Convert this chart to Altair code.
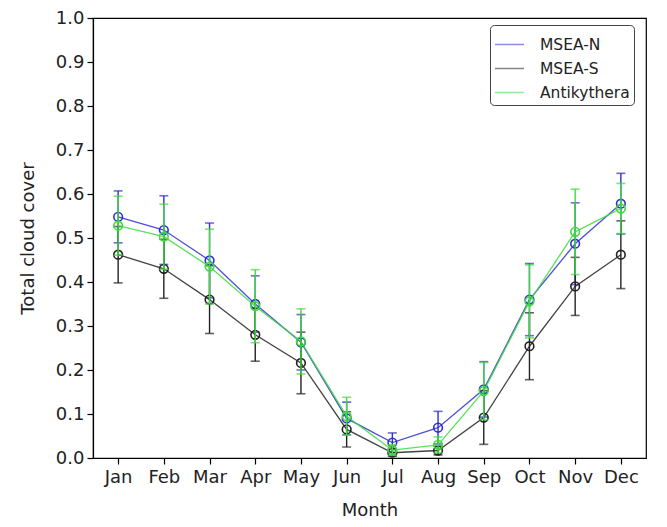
import altair as alt
import pandas as pd

months = ["Jan", "Feb", "Mar", "Apr", "May", "Jun", "Jul", "Aug", "Sep", "Oct", "Nov", "Dec"]
series_names = ["MSEA-N", "MSEA-S", "Antikythera"]
series_colors = ["#2f2fd2", "#222222", "#3ddc3d"]

n_mean = [0.548, 0.518, 0.449, 0.350, 0.263, 0.090, 0.035, 0.069, 0.156, 0.360, 0.487, 0.578]
n_err = [0.059, 0.078, 0.085, 0.064, 0.063, 0.037, 0.022, 0.037, 0.063, 0.082, 0.093, 0.069]
s_mean = [0.462, 0.430, 0.360, 0.280, 0.216, 0.065, 0.012, 0.017, 0.092, 0.254, 0.390, 0.462]
s_err = [0.064, 0.067, 0.077, 0.060, 0.070, 0.040, 0.008, 0.010, 0.061, 0.076, 0.066, 0.077]
a_mean = [0.528, 0.503, 0.435, 0.345, 0.265, 0.095, 0.018, 0.030, 0.152, 0.356, 0.514, 0.567]
a_err = [0.067, 0.074, 0.085, 0.083, 0.074, 0.043, 0.012, 0.018, 0.065, 0.083, 0.097, 0.057]

means = {"MSEA-N": n_mean, "MSEA-S": s_mean, "Antikythera": a_mean}
errs = {"MSEA-N": n_err, "MSEA-S": s_err, "Antikythera": a_err}

rows = []
for s in series_names:
    for i, m in enumerate(months):
        mv = means[s][i]
        ev = errs[s][i]
        rows.append({"series": s, "month": i, "mean": mv, "lo": mv - ev, "hi": mv + ev})
df = pd.DataFrame(rows)

label_expr = "[" + ",".join("'" + m + "'" for m in months) + "][datum.value]"

x_enc = alt.X(
    "month:Q",
    scale=alt.Scale(domain=[-0.55, 11.55], nice=False, zero=False),
    axis=alt.Axis(values=list(range(12)), labelExpr=label_expr, title="Month",
                  grid=False, tickSize=6, labelPadding=4, titlePadding=15),
)
y_axis = alt.Axis(values=[round(v * 0.1, 1) for v in range(11)], format=".1f",
                  title="Total cloud cover", grid=False, tickSize=6,
                  labelPadding=3, titlePadding=18)
y_scale = alt.Scale(domain=[0, 1], nice=False)

color_enc = alt.Color(
    "series:N",
    scale=alt.Scale(domain=series_names, range=series_colors),
    legend=alt.Legend(title=None, orient="none", legendX=397, legendY=7),
)

layers = []
for s in series_names:
    base = alt.Chart(df).transform_filter(alt.datum.series == s)
    rule = base.mark_rule(strokeWidth=1.4).encode(
        x=x_enc, y=alt.Y("lo:Q", scale=y_scale, axis=y_axis), y2="hi:Q", color=color_enc)
    cap_lo = base.mark_tick(orient="horizontal", size=9, thickness=1.6).encode(
        x=x_enc, y=alt.Y("lo:Q", scale=y_scale, axis=y_axis), color=color_enc)
    cap_hi = base.mark_tick(orient="horizontal", size=9, thickness=1.6).encode(
        x=x_enc, y=alt.Y("hi:Q", scale=y_scale, axis=y_axis), color=color_enc)
    line = base.mark_line(strokeWidth=1.3, opacity=0.85).encode(
        x=x_enc, y=alt.Y("mean:Q", scale=y_scale, axis=y_axis), color=color_enc)
    pts = base.mark_point(shape="circle", filled=False, size=75, strokeWidth=1.6, opacity=1).encode(
        x=x_enc, y=alt.Y("mean:Q", scale=y_scale, axis=y_axis), color=color_enc)
    layers += [rule, cap_lo, cap_hi, line, pts]

chart = alt.layer(*layers).properties(
    width=553, height=440,
    autosize=alt.AutoSizeParams(type="none"),
    padding={"left": 85, "top": 10, "right": 13, "bottom": 63},
).configure_view(
    stroke="#000000", strokeWidth=1.2
).configure_axis(
    labelFont="DejaVu Sans", titleFont="DejaVu Sans",
    labelFontSize=18, titleFontSize=18, titleFontWeight="normal",
    labelColor="#222222", titleColor="#222222",
    domainColor="#000000", tickColor="#000000", domainWidth=1.2, tickWidth=1.2,
).configure_legend(
    labelFont="DejaVu Sans", labelFontSize=15.5, labelColor="#222222",
    symbolType="stroke", symbolSize=850, symbolStrokeWidth=1.5, symbolOpacity=0.55,
    strokeColor="#444444", fillColor="#ffffff", cornerRadius=4, padding=4,
    rowPadding=0, labelOffset=15,
)

chart.save("out.html", embed_options={"renderer": "svg", "actions": False})
